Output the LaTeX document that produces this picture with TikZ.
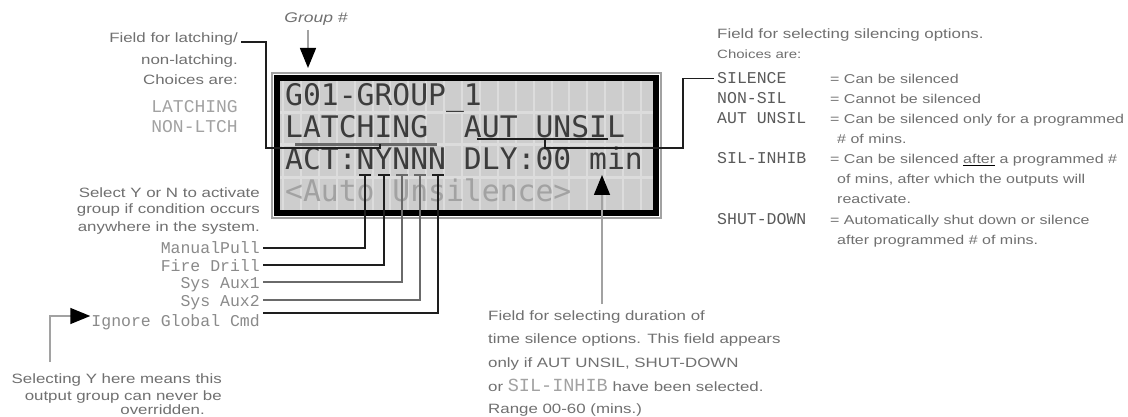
\documentclass[tikz,border=0pt]{standalone}
\usepackage{fontspec}
\usetikzlibrary{arrows.meta,calc}
\newfontfamily\lblfont[FakeStretch=1.25]{Liberation Sans}
\newfontfamily\monofont{Liberation Mono}
\newfontfamily\lcdfont{DejaVu Sans Mono}
\definecolor{lblgray}{HTML}{707070}
\definecolor{monogray}{HTML}{8A8A8A}
\definecolor{monodark}{HTML}{5A5A5A}
\definecolor{lcdbg}{HTML}{CDCDCD}
\definecolor{lcdgrid}{HTML}{DCDCDC}
\definecolor{lcdtext}{HTML}{3C3C3C}
\definecolor{lcddim}{HTML}{A2A2A2}
\definecolor{wire}{HTML}{1E1E1E}
\definecolor{wiregray}{HTML}{6A6A6A}
\tikzset{
  lbl/.style={font=\lblfont\fontsize{13.5}{16}\selectfont, text=lblgray, inner sep=0pt},
  desc/.style={font=\lblfont\fontsize{12.8}{15}\selectfont, text=lblgray, inner sep=0pt, anchor=base west},
  mono/.style={font=\monofont\fontsize{16.5}{18}\selectfont, text=monogray, inner sep=0pt},
  monobig/.style={font=\monofont\fontsize{18}{20}\selectfont, text=lcddim, inner sep=0pt},
  monor/.style={font=\monofont\fontsize{16.5}{18}\selectfont, text=monodark, inner sep=0pt},
  lcdrow/.style={font=\lcdfont\fontsize{29.7}{32}\selectfont, text=lcdtext, inner sep=0pt, anchor=base west},
  wireline/.style={draw=wire, line width=2pt},
  wireg/.style={draw=wiregray, line width=2pt},
  tip/.style={-{Triangle[width=16pt,length=20pt,color=black]}},
}
\begin{document}
\begin{tikzpicture}[x=1pt,y=-1pt]
\useasboundingbox (0,0) rectangle (1128,417);
\fill[white] (0,0) rectangle (1128,417);

% ---------- LCD panel ----------
\draw[line width=1.5pt, draw=lcddim] (272,73) rectangle (661,218);
\fill[lcdbg] (279,80) rectangle (654,211);
\foreach \k in {0,...,20} \draw[lcdgrid, line width=2pt] ({283+\k*17.9},80) -- ({283+\k*17.9},211);
\foreach \k in {1,2,3} \draw[lcdgrid, line width=3pt] (279,{80+\k*32.5}) -- (654,{80+\k*32.5});
\draw[line width=6pt, draw=black] (277,78) rectangle (656,213);
\node[lcdrow] (r1) at (285,106) {G01-GROUP\_1};
\node[lcdrow] (r2) at (285,138) {LATCHING\ \ AUT UNSIL};
\node[lcdrow] (r3) at (285,170) {ACT:NYNNN DLY:00 min};
\node[lcdrow, text=lcddim] (r4) at (285,201) {<Auto Unsilence>};

% ---------- Group # ----------
\node[lbl, font=\lblfont\itshape\fontsize{14}{16}\selectfont] (grp) at (316,19) {Group \#};
\coordinate (gtip) at (308,68);
\draw[draw=lcddim, line width=1.5pt, tip] (308,30) -- (gtip);

% ---------- latching field ----------
\node[lbl, anchor=base east] (lat1) at (238,43) {Field for latching/};
\node[lbl, anchor=base east] (lat2) at (238,65) {non-latching.};
\node[lbl, anchor=base east] (lat3) at (238,85) {Choices are:};
\node[monobig, anchor=base east] (lat4) at (238,113) {LATCHING};
\node[monobig, anchor=base east] (lat5) at (238,133) {NON-LTCH};
\draw[draw=wiregray, line width=3pt] (295,145) -- (437,145);
\coordinate (lc1) at (266,42);
\coordinate (lc2) at (380,148);
\draw[wireline] ([xshift=3pt]lat1.east |- lc1) -- (lc1) |- (lc2) -- ++(0,-4);

% ---------- silencing field ----------
\draw[wireline, line width=1.6pt] (477,139) -- (608,139);
\coordinate (sc1) at (545,139);
\coordinate (sc2) at (683,148);
\node[lbl, anchor=base west] (s0) at (717,39) {Field for selecting silencing options.};
\node[lbl, anchor=base west, font=\lblfont\fontsize{12}{14}\selectfont] (s00) at (717,59) {Choices are:};
\node[monor, anchor=base west] (s1) at (717,84) {SILENCE};
\node[monor, anchor=base west] (s2) at (717,104) {NON-SIL};
\node[monor, anchor=base west] (s3) at (717,124) {AUT UNSIL};
\node[monor, anchor=base west] (s4) at (717,164) {SIL-INHIB};
\node[monor, anchor=base west] (s5) at (717,224) {SHUT-DOWN};
\node[desc] (d1) at (830,84) {= Can be silenced};
\node[desc] (d2) at (830,104) {= Cannot be silenced};
\node[desc] (d3) at (830,124) {= Can be silenced only for a programmed};
\node[desc] (d3b) at (837,144) {\# of mins.};
\node[desc] (d4) at (830,164) {= Can be silenced {\color{black}$\underline{\hbox{\color{lblgray}after}}$} a programmed \#};
\node[desc] (d4b) at (837,184) {of mins, after which the outputs will};
\node[desc] (d4c) at (837,204) {reactivate.};
\node[desc] (d5) at (830,224) {= Automatically shut down or silence};
\node[desc] (d5b) at (837,244) {after programmed \# of mins.};
\draw[draw=wire, line width=1.6pt] (sc1) -- (sc1 |- sc2) -- (sc2) |- ([xshift=-3pt]s1.west);

% ---------- activation Y/N ----------
\node[lbl, anchor=base east] (a1) at (260,197) {Select Y or N to activate};
\node[lbl, anchor=base east] (a2) at (260,214) {group if condition occurs};
\node[lbl, anchor=base east] (a3) at (260,232) {anywhere in the system.};
\node[mono, anchor=base east] (mp) at (260,254) {ManualPull};
\node[mono, anchor=base east] (fd) at (260,271) {Fire Drill};
\node[mono, anchor=base east] (x1) at (260,288) {Sys Aux1};
\node[mono, anchor=base east] (x2) at (260,306) {Sys Aux2};
\node[mono, anchor=base east] (ig) at (260,326) {Ignore Global Cmd};
\foreach \n/\x/\y/\lab/\st in {1/365/248/mp/wireline, 2/384/265/fd/wireline, 3/402/282/x1/wireg, 4/420/300/x2/wireg, 5/438/313/ig/wireline}{
  \coordinate (t\n) at (\x,175);
  \coordinate (b\n) at (\x,\y);
  \draw[\st] (t\n) -- (b\n) -- ([xshift=3pt]\lab.east |- b\n);
  \draw[\st] ([xshift=-6pt]t\n) -- ([xshift=6pt]t\n);
}

% ---------- ignore global ----------
\node[lbl, anchor=base east] (o1) at (222,383) {Selecting Y here means this};
\node[lbl, anchor=base east] (o2) at (222,400) {output group can never be};
\node[lbl, anchor=base east] (o3) at (205,414) {overridden.};
\coordinate (oc) at (50,316);
\draw[draw=lcddim, line width=1.5pt, tip] (50,362) -- (oc) -- ([xshift=-1pt]ig.west |- oc);

% ---------- delay field ----------
\node[lbl, anchor=base west] (m1) at (488,320) {Field for selecting duration of};
\node[lbl, anchor=base west] (m2) at (488,343) {time silence options. This field appears};
\node[lbl, anchor=base west] (m3) at (488,367) {only if AUT UNSIL, SHUT-DOWN};
\node[lbl, anchor=base west] (m4) at (488,391) {or {\monofont\fontsize{18.5}{20}\selectfont\color{lcddim}SIL-INHIB} have been selected.};
\node[lbl, anchor=base west] (m5) at (488,413) {Range 00-60 (mins.)};
\coordinate (dt) at (602,175);
\draw[draw=lcddim, line width=1.5pt, tip] (602,304) -- (dt);
\end{tikzpicture}
\end{document}
